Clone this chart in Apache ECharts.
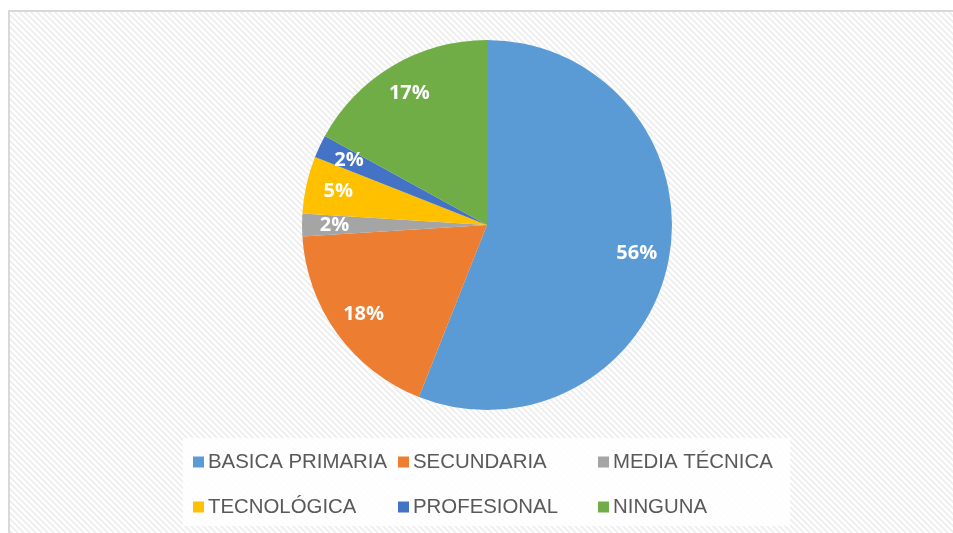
<!DOCTYPE html>
<html>
<head>
<meta charset="utf-8">
<script src="https://cdn.jsdelivr.net/npm/echarts@6/dist/echarts.min.js"></script>
<style>
  html, body { margin: 0; padding: 0; background: #fff; }
  #pie { width: 953px; height: 533px; }
</style>
</head>
<body>
<div id="pie"></div>
<script>
// datos del grafico
const categorias = ['BASICA PRIMARIA', 'SECUNDARIA', 'MEDIA TÉCNICA', 'TECNOLÓGICA', 'PROFESIONAL', 'NINGUNA']
const valores = [56, 18, 2, 5, 2, 17]
const colores = ['#5B9BD5', '#ED7D31', '#A5A5A5', '#FFC000', '#4472C4', '#70AD47']

// posiciones de la leyenda (3 columnas x 2 filas)
const legendPos = [
  [193, 452], [398, 452], [598, 452],
  [193, 497], [398, 497], [598, 497]
]

// fondo rayado
function rayado () {
  const c = document.createElement('canvas')
  c.width = 6
  c.height = 6
  const ctx = c.getContext('2d')
  ctx.fillStyle = '#ffffff'
  ctx.fillRect(0, 0, 6, 6)
  ctx.fillStyle = '#f0f0f0'
  for (let y = 0; y < 6; y++) {
    for (let x = 0; x < 6; x++) {
      if (((x - y) % 6 + 6) % 6 < 3) ctx.fillRect(x, y, 1, 1)
    }
  }
  return c
}

const myChart = echarts.init(document.getElementById('pie'))
const datos = categorias.map((n, i) => ({ name: n, value: valores[i] }))

const option = {
  backgroundColor: '#ffffff',
  color: colores,
  animation: false,
  graphic: [
    {
      type: 'rect',
      z: -10,
      silent: true,
      shape: { x: 9, y: 11, width: 960, height: 540 },
      style: { fill: { image: rayado(), repeat: 'repeat' }, stroke: '#d9d9d9', lineWidth: 2 }
    },
    {
      type: 'rect',
      z: -9,
      silent: true,
      shape: { x: 183, y: 438, width: 607, height: 88 },
      style: { fill: 'rgba(255,255,255,0.85)' }
    }
  ],
  legend: categorias.map((n, i) => ({
    data: [n],
    left: legendPos[i][0],
    top: legendPos[i][1],
    padding: 0,
    itemWidth: 11,
    itemHeight: 11,
    itemGap: 0,
    icon: 'rect',
    selectedMode: false,
    textStyle: { fontFamily: 'Liberation Sans', fontSize: 20.4, color: '#595959', padding: [0, 0, 0, -1] }
  })),
  series: [
    {
      type: 'pie',
      center: [487, 225],
      radius: 185,
      startAngle: 90,
      clockwise: true,
      data: datos,
      label: { show: false },
      labelLine: { show: false },
      emphasis: { disabled: true }
    },
    {
      // serie transparente solo para colocar las etiquetas
      type: 'pie',
      center: [487, 225],
      radius: [114, 185],
      startAngle: 90,
      clockwise: true,
      silent: true,
      data: datos,
      itemStyle: { color: 'transparent' },
      label: {
        show: true,
        position: 'inside',
        formatter: p => Math.round(p.percent) + '%',
        color: '#ffffff',
        fontFamily: 'Open Sans',
        fontWeight: 'bold',
        fontSize: 20
      },
      labelLine: { show: false },
      emphasis: { disabled: true }
    }
  ]
}

option && myChart.setOption(option)
window.onresize = myChart.resize
</script>
</body>
</html>
